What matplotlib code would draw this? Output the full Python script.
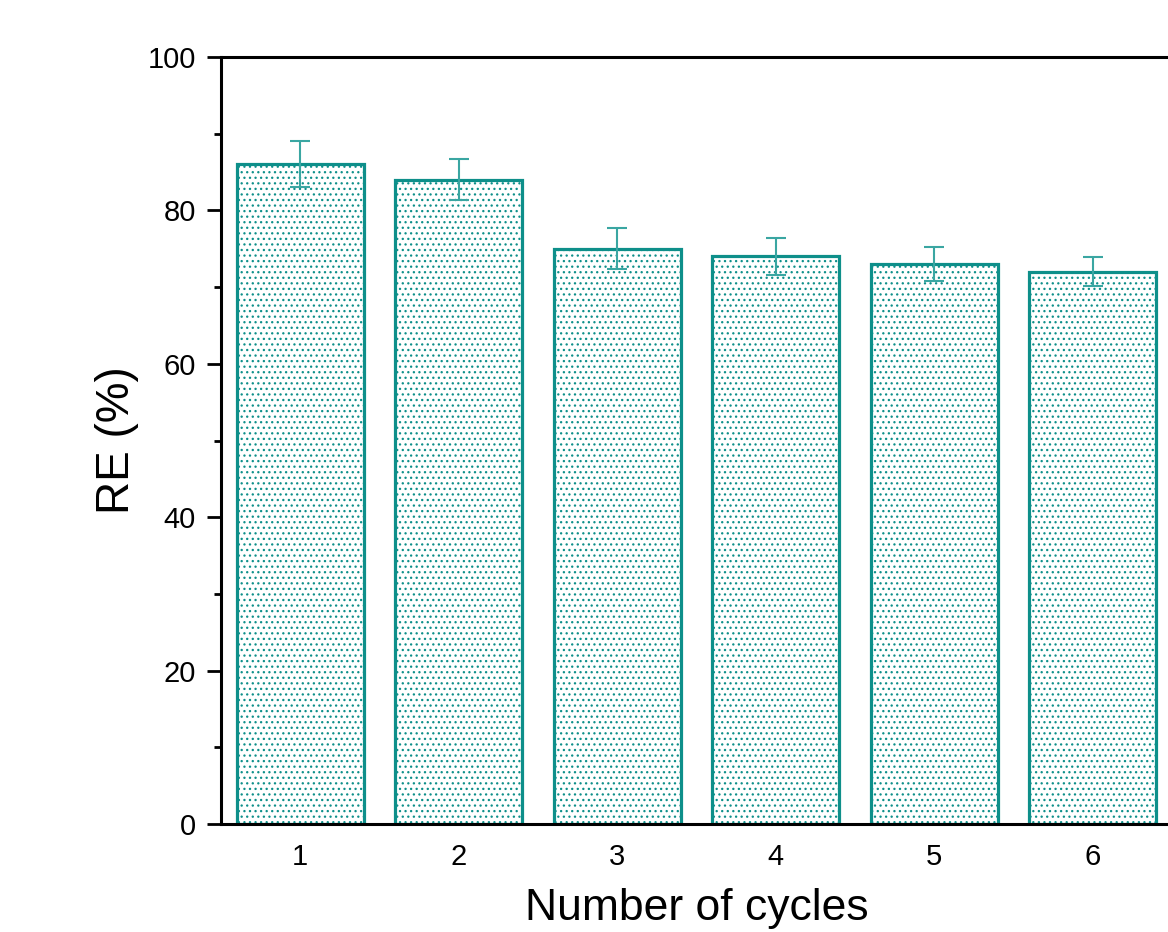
import matplotlib
matplotlib.use("Agg")
import matplotlib.pyplot as plt
from matplotlib.ticker import MultipleLocator

cycles = [1, 2, 3, 4, 5, 6]
re_values = [86, 84, 75, 74, 73, 72]
re_errors = [3.0, 2.7, 2.7, 2.4, 2.2, 1.9]

plt.rcParams['font.family'] = ['Liberation Sans', 'DejaVu Sans']
plt.rcParams['hatch.linewidth'] = 0.9
teal = '#0e8f8a'

fig = plt.figure(figsize=(11.68, 9.32), dpi=100)
ax = fig.add_axes([221 / 1168, 108 / 932, (1172 - 221) / 1168, (824 - 57) / 932])

ax.bar(cycles, re_values, width=0.8, color='white', edgecolor=teal,
       linewidth=2.3, hatch='...', zorder=2)
ax.errorbar(cycles, re_values, yerr=re_errors, fmt='none', ecolor='#3aa6a2',
            elinewidth=1.5, capsize=7, capthick=1.5, zorder=3)

ax.set_xlim(0.5, 6.5)
ax.set_ylim(0, 100)
ax.set_xticks(cycles)
ax.yaxis.set_major_locator(MultipleLocator(20))
ax.yaxis.set_minor_locator(MultipleLocator(10))

for s in ax.spines.values():
    s.set_linewidth(2.2)
ax.tick_params(axis='y', which='major', direction='out', length=10, width=2,
               labelsize=21, pad=8)
ax.tick_params(axis='y', which='minor', direction='out', length=5, width=2)
ax.tick_params(axis='x', length=0, labelsize=21, pad=14)

ax.set_ylabel('RE (%)', fontsize=33, labelpad=6)
ax.set_xlabel('Number of cycles', fontsize=32, labelpad=12)

fig.savefig('out.png', dpi=100)
